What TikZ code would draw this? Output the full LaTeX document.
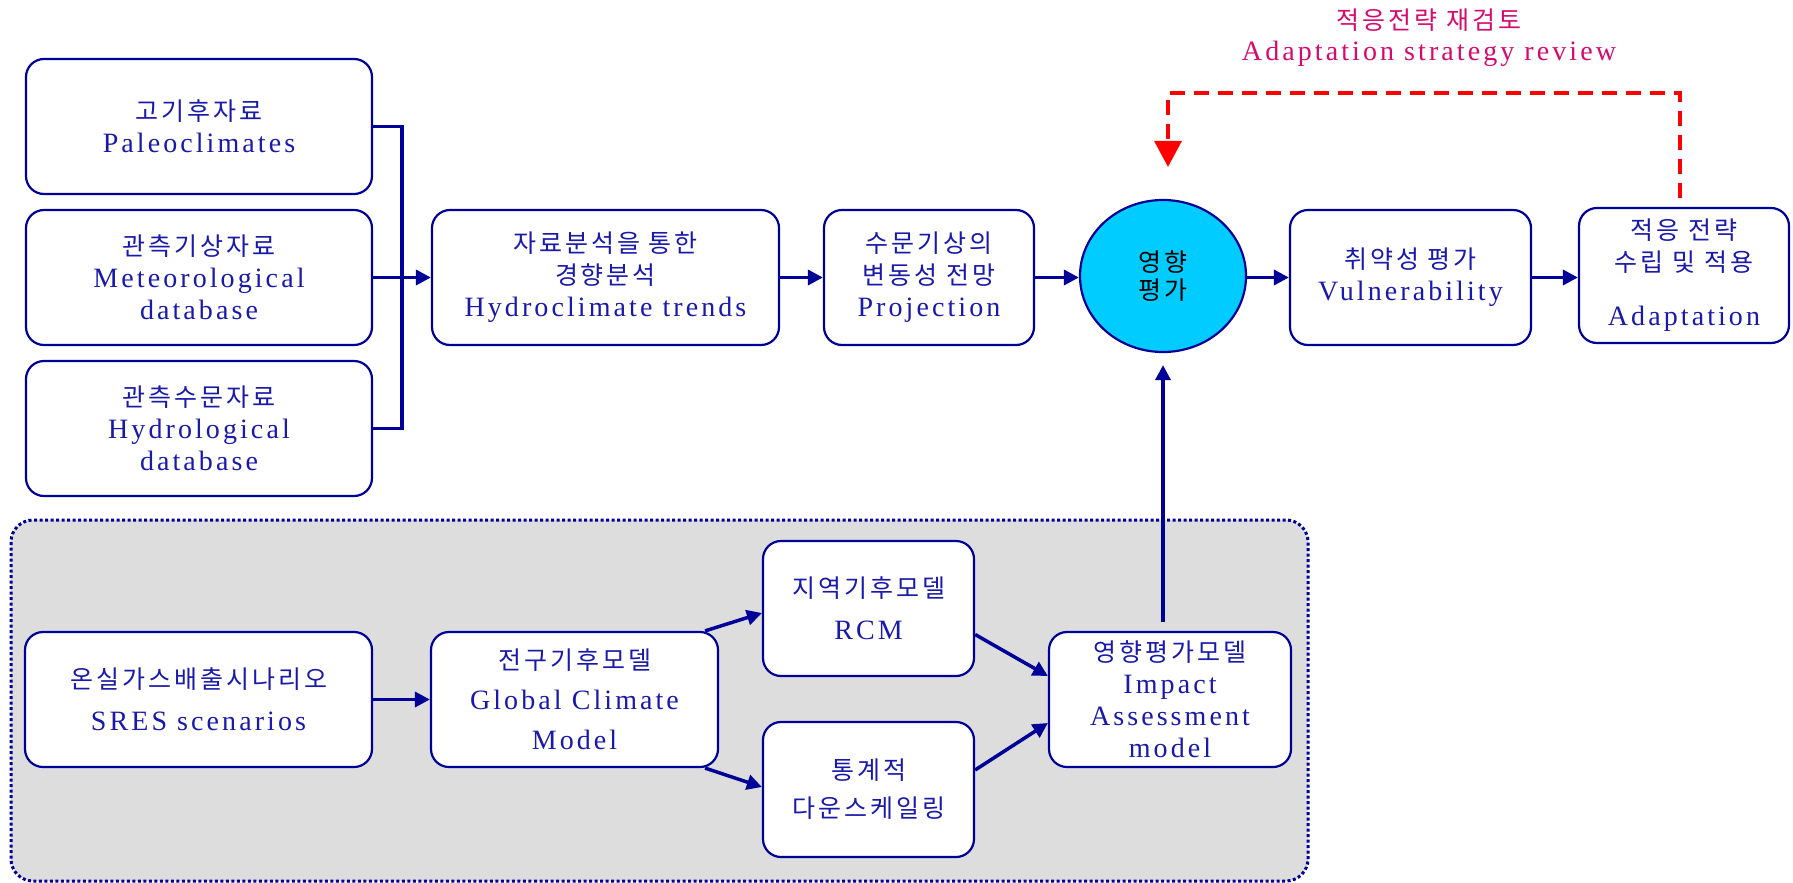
\documentclass[tikz,border=0pt]{standalone}
\usepackage{fontspec}
\setmainfont[LetterSpace=11]{Liberation Serif}
\newfontfamily\kr[LetterSpace=12]{Noto Sans CJK KR}
\usetikzlibrary{arrows.meta,shapes.geometric}
\definecolor{navy}{RGB}{0,0,153}
\definecolor{tblue}{RGB}{25,25,170}
\definecolor{regiongray}{RGB}{221,221,221}
\definecolor{cyanfill}{RGB}{0,204,255}
\definecolor{reviewred}{RGB}{214,10,110}
\newcommand\kk[1]{{\kr\fontsize{25}{32}\selectfont #1}}
\tikzset{
  box/.style={draw=navy, line width=2.2pt, rounded corners=18pt, fill=white,
    text=tblue, align=center, inner sep=0pt,
    font=\fontsize{28}{32}\selectfont},
  conn/.style={draw=navy, line width=3.5pt},
  arr/.style={conn, -{Triangle[width=15pt,length=15pt]}},
}
\begin{document}
\begin{tikzpicture}[x=1pt,y=-1pt]
\useasboundingbox (0,0) rectangle (1793,883);
% grey region
\draw[draw=navy, fill=regiongray, line width=3pt, dash pattern=on 3pt off 2.5pt, rounded corners=22pt]
  (11,520) rectangle (1308,881);
% top-left source boxes
\node[box, minimum width=346pt, minimum height=135pt] (p1) at (199,126.5) {\kk{고기후자료}\\Paleoclimates};
\node[box, minimum width=346pt, minimum height=135pt] (p2) at (199,277.5) {\kk{관측기상자료}\\Meteorological\\database};
\node[box, minimum width=346pt, minimum height=135pt] (p3) at (199,428.5) {\kk{관측수문자료}\\Hydrological\\database};
\node[box, minimum width=347pt, minimum height=135pt] (hydro) at (605.5,277.5) {\kk{자료분석을 통한}\\\kk{경향분석}\\Hydroclimate trends};
\node[box, minimum width=210pt, minimum height=135pt] (proj) at (929,277.5) {\kk{수문기상의}\\\kk{변동성 전망}\\Projection};
\node[ellipse, draw=navy, line width=2.2pt, fill=cyanfill, minimum width=166pt, minimum height=152pt, inner sep=0pt, align=center, text=black] (ell) at (1163,276) {\kk{영향}\\[5pt]\kk{평가}};
\node[box, minimum width=241pt, minimum height=135pt] (vul) at (1410.5,277.5) {\kk{취약성 평가}\\Vulnerability};
\node[box, minimum width=210pt, minimum height=135pt] (adapt) at (1684,275.5) {\kk{적응 전략}\\\kk{수립 및 적용}\\[22pt]Adaptation};
% review label
\node[text=reviewred, align=center, font=\fontsize{28}{31}\selectfont] (rev) at (1429,38) {{\kr\fontsize{25}{31}\selectfont 적응전략 재검토}\\Adaptation strategy review};
% bottom boxes
\node[box, minimum width=347pt, minimum height=135pt, font=\fontsize{28}{42}\selectfont] (sres) at (198.5,699.5) {\kk{온실가스배출시나리오}\\SRES scenarios};
\node[box, minimum width=287pt, minimum height=135pt, font=\fontsize{28}{40}\selectfont] (gcm) at (574.5,699.5) {\kk{전구기후모델}\\Global Climate\\Model};
\node[box, minimum width=211pt, minimum height=135pt, font=\fontsize{28}{42}\selectfont] (rcm) at (868.5,608.5) {\kk{지역기후모델}\\RCM};
\node[box, minimum width=211pt, minimum height=135pt, font=\fontsize{28}{38}\selectfont] (down) at (868.5,789.5) {\kk{통계적}\\\kk{다운스케일링}};
\node[box, minimum width=242pt, minimum height=135pt] (impact) at (1170,699.5) {\kk{영향평가모델}\\Impact\\Assessment\\model};
% bracket
\coordinate (bx) at (402,0);
\draw[conn] (p1.east) -- (p1.east -| bx) -- (p3.east -| bx) -- (p3.east);
\draw[arr] (p2.east) -- (hydro.west);
\draw[arr] (hydro.east) -- (proj.west);
\draw[arr] (proj.east) -- (proj.east -| ell.west);
\draw[arr] (ell.east |- vul.west) -- (vul.west);
\draw[arr] (vul.east) -- (vul.east -| adapt.west);
% review loop
\coordinate (rvR) at (1680,93);
\coordinate (rvL) at (1168,93);
\draw[draw=red, line width=3.5pt, dash pattern=on 15pt off 9pt, -{Triangle[width=27pt,length=26pt]}, shorten >=32pt]
  ([xshift=-4pt,yshift=9pt]adapt.north) -- (rvR) -- (rvL) -- (rvL |- ell.north);
% impact to assessment
\draw[arr, shorten <=9pt, shorten >=12pt] (impact.north -| ell.south) -- (ell.south);
% bottom flow
\draw[arr] (sres.east) -- (gcm.west);
\draw[arr] ([xshift=-14pt]gcm.north east) -- ([yshift=-4.5pt]rcm.west);
\draw[arr] ([xshift=-14pt]gcm.south east) -- ([yshift=2.5pt]down.west);
\draw[arr] ([yshift=-26pt]rcm.east) -- ([yshift=23.5pt]impact.west);
\draw[arr] ([yshift=19.5pt]down.east) -- ([yshift=-23.5pt]impact.west);
\end{tikzpicture}
\end{document}
